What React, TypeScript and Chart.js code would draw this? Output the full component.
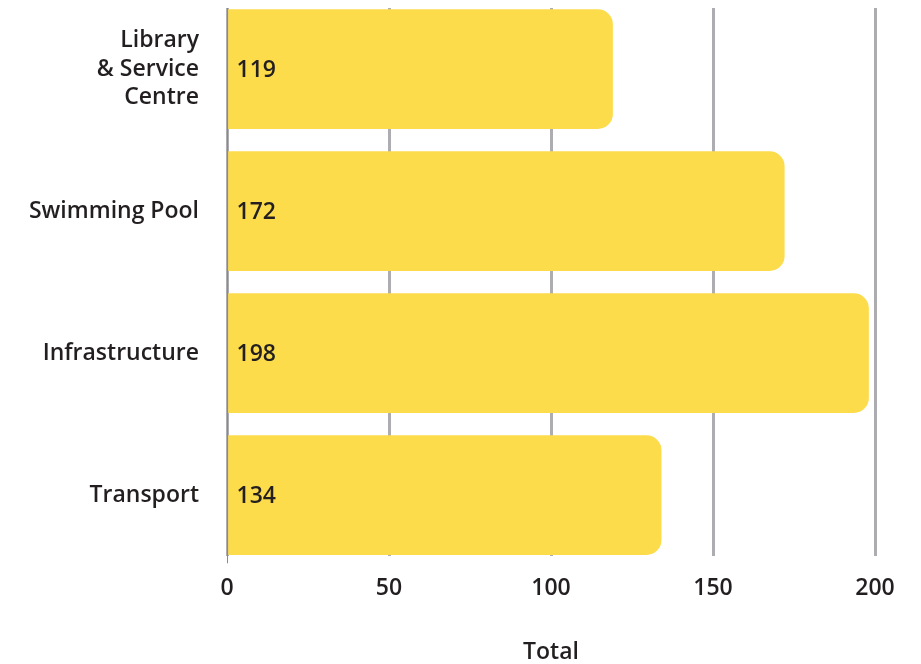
import React, { useEffect, useRef } from "react";
import { Chart, registerables } from "chart.js";

Chart.register(...registerables);

const categories: (string | string[])[] = [["Library", "& Service", "Centre"], "Swimming Pool", "Infrastructure", "Transport"];
const values = [119, 172, 198, 134];
const xTicks = [0, 50, 100, 150, 200];
const axisTitle = "Total";

const FONT = "'Open Sans', sans-serif";
const TEXT = "#231f20";
const BAR = "#fddc4c";
const GRID = "#adadb1";
const AXIS = "#8a8a8e";

export default function App() {
  const ref = useRef<HTMLCanvasElement>(null);
  useEffect(() => {
    const valueLabels = {
      id: "valueLabels",
      afterDatasetsDraw(chart: any) {
        const ctx = chart.ctx;
        const meta = chart.getDatasetMeta(0);
        ctx.save();
        ctx.font = `600 23px ${FONT}`;
        ctx.fillStyle = TEXT;
        ctx.textAlign = "left";
        ctx.textBaseline = "middle";
        meta.data.forEach((el: any, i: number) => {
          ctx.fillText(String(values[i]), el.base + 8, el.y + 1);
        });
        ctx.restore();
      },
    };
    const font = { family: FONT, size: 23, weight: 600 as any, lineHeight: 1.25 };
    const chart = new Chart(ref.current as HTMLCanvasElement, {
      type: "bar",
      data: {
        datasets: [
          {
            data: values.map((v, i) => ({ x: v, y: i })),
            backgroundColor: BAR,
            borderRadius: 15,
            borderSkipped: "start",
            barThickness: 119,
          } as any,
        ],
      },
      options: {
        indexAxis: "y",
        animation: false,
        responsive: true,
        maintainAspectRatio: false,
        layout: { padding: { top: 8, right: 46, left: 0, bottom: 0 } },
        plugins: { legend: { display: false }, tooltip: { enabled: false } },
        scales: {
          x: {
            type: "linear",
            min: 0,
            max: 200,
            afterBuildTicks: (s: any) => {
              s.ticks = xTicks.map((v) => ({ value: v }));
            },
            grid: {
              color: GRID,
              lineWidth: 3,
              drawTicks: true,
              tickLength: 7,
              tickWidth: 1,
              tickColor: (c: any) => (c.index === 0 ? AXIS : "rgba(0,0,0,0)"),
            },
            border: { display: false },
            ticks: { font, color: TEXT, padding: 11 },
            title: {
              display: true,
              text: axisTitle,
              font: { ...font, lineHeight: 1 },
              color: TEXT,
              padding: { top: 27, bottom: 0 },
            },
          },
          y: {
            type: "linear",
            offset: false,
            reverse: true,
            min: -0.43,
            max: 3.43,
            afterBuildTicks: (s: any) => {
              s.ticks = categories.map((_, i) => ({ value: i }));
            },
            afterFit: (s: any) => {
              s.width = 227;
              s.paddingTop = 0;
              s.paddingBottom = 0;
            },
            grid: { display: false, drawTicks: false, offset: false },
            border: { display: true, color: AXIS, width: 1 },
            ticks: {
              callback: (v: any) => categories[v as number] as any,
              font,
              color: TEXT,
              padding: 28,
            },
          },
        },
      } as any,
      plugins: [valueLabels],
    });
    return () => chart.destroy();
  }, []);
  return (
    <div style={{ position: "fixed", left: 0, top: 0, width: 921, height: 664, background: "#fff" }}>
      <canvas ref={ref} />
    </div>
  );
}
